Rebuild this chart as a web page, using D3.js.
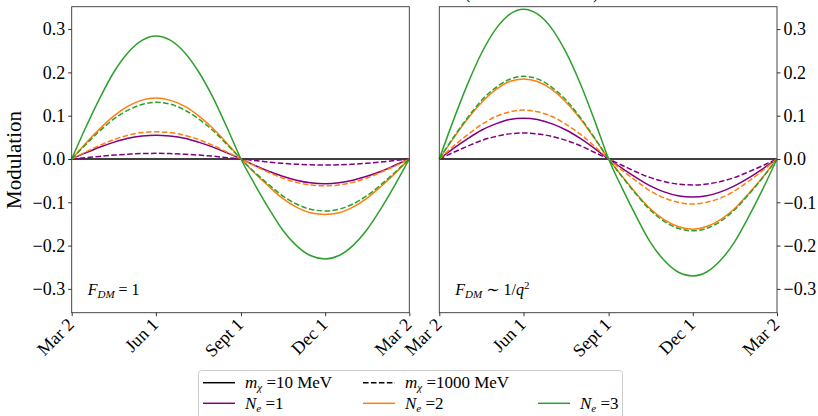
<!DOCTYPE html>
<html><head><meta charset="utf-8">
<script src="https://cdn.jsdelivr.net/npm/d3@7"></script>
<style>
body{margin:0;background:#fff;}
svg text{font-family:"Liberation Serif","DejaVu Serif",serif;}
</style></head>
<body><svg id="c" width="818" height="416"></svg>
<script>
// days since Mar 2
const days = [0,15,30,46,61,76,91,106,122,137,152,168,183,198,213,228,243,258,274,289,304,319,334,350,365];
const tickDays = [0,91,183,274,365];
const tickLabels = ["Mar 2","Jun 1","Sept 1","Dec 1","Mar 2"];
const yTicks = [-0.3,-0.2,-0.1,0.0,0.1,0.2,0.3];

// Left panel: F_DM = 1
const leftG10   = [0,.072,.139,.202,.246,.274,.284,.275,.246,.202,.145,.072,0,-.059,-.114,-.164,-.200,-.223,-.231,-.223,-.200,-.164,-.116,-.058,0];
const leftG1000 = [0,.033,.064,.093,.113,.126,.131,.127,.113,.093,.067,.033,0,-.031,-.059,-.085,-.104,-.116,-.120,-.116,-.104,-.085,-.060,-.030,0];
const leftO10   = [0,.036,.069,.100,.122,.136,.141,.136,.122,.100,.072,.036,0,-.033,-.063,-.091,-.111,-.124,-.128,-.124,-.111,-.091,-.064,-.032,0];
const leftO1000 = [0,.016,.031,.045,.055,.061,.063,.061,.055,.045,.032,.016,0,-.016,-.031,-.044,-.054,-.060,-.062,-.060,-.054,-.044,-.031,-.016,0];
const leftP10   = [0,.014,.027,.039,.048,.053,.055,.053,.048,.039,.028,.014,0,-.015,-.028,-.040,-.049,-.055,-.057,-.055,-.049,-.040,-.029,-.014,0];
const leftP1000 = [0,.003,.006,.009,.011,.0125,.013,.0125,.011,.009,.0066,.003,0,-.0036,-.007,-.010,-.012,-.0135,-.014,-.0135,-.012,-.010,-.007,-.0035,0];

// Right panel: F_DM ~ 1/q^2
const rightG10   = [0,.088,.170,.246,.300,.334,.346,.335,.300,.246,.176,.088,0,-.069,-.133,-.192,-.234,-.261,-.270,-.261,-.234,-.192,-.135,-.068,0];
const rightG1000 = [0,.049,.094,.136,.165,.184,.191,.185,.165,.136,.097,.048,0,-.042,-.082,-.118,-.144,-.160,-.166,-.160,-.144,-.118,-.083,-.042,0];
const rightO10   = [0,.047,.091,.131,.160,.179,.185,.179,.160,.131,.094,.047,0,-.041,-.080,-.115,-.140,-.156,-.162,-.156,-.140,-.115,-.081,-.041,0];
const rightO1000 = [0,.029,.055,.080,.098,.109,.113,.109,.098,.080,.058,.029,0,-.027,-.051,-.074,-.090,-.100,-.104,-.100,-.090,-.074,-.052,-.026,0];
const rightP10   = [0,.024,.046,.067,.081,.091,.094,.091,.081,.067,.048,.024,0,-.022,-.043,-.062,-.076,-.085,-.088,-.085,-.076,-.062,-.044,-.022,0];
const rightP1000 = [0,.015,.029,.043,.052,.058,.060,.058,.052,.043,.031,.015,0,-.015,-.030,-.043,-.052,-.058,-.060,-.058,-.052,-.043,-.030,-.015,0];

const COL = {P:"#800080", O:"#ff7f0e", G:"#2ca02c"};
const SERIF = "'Liberation Serif', 'DejaVu Serif', serif";
const svg = d3.select("#c");
const plotTop = 6.7, plotBottom = 312.7;
const y = d3.scaleLinear().domain([-0.355, 0.3517]).range([plotBottom, plotTop]);

function panel(x0, x1, series, yside, label) {
  const x = d3.scaleLinear().domain([0,365]).range([x0,x1]);
  const g = svg.append("g");
  g.append("line").attr("x1",x0).attr("x2",x1).attr("y1",y(0)).attr("y2",y(0))
    .attr("stroke","#000").attr("stroke-width",1.5);
  const line = d3.line().x((d,i)=>x(days[i])).y(d=>y(d)).curve(d3.curveMonotoneX);
  series.forEach(s=>{
    g.append("path").attr("d",line(s.v)).attr("fill","none").attr("stroke",s.c)
      .attr("stroke-width",1.5).attr("stroke-dasharray",s.dash?"5.55,2.4":null);
  });
  g.append("rect").attr("x",x0).attr("y",plotTop).attr("width",x1-x0).attr("height",plotBottom-plotTop)
    .attr("fill","none").attr("stroke","#333").attr("stroke-width",0.9);
  const xa = g.append("g").attr("transform",`translate(0,${plotBottom})`)
    .call(d3.axisBottom(x).tickValues(tickDays).tickSize(3.5).tickFormat((d,i)=>tickLabels[i]));
  xa.select(".domain").remove();
  xa.selectAll("line").attr("stroke","#333");
  xa.selectAll("text").style("font-size","18px").style("font-family",SERIF)
    .attr("fill","#000")
    .attr("text-anchor","end").attr("dy",null).attr("y",0)
    .attr("transform","translate(3,13) rotate(-45)");
  const ax = yside==="left" ? d3.axisLeft(y) : d3.axisRight(y);
  const ya = g.append("g").attr("transform",`translate(${yside==="left"?x0:x1},0)`)
    .call(ax.tickValues(yTicks).tickSize(3.5).tickPadding(3).tickFormat(d=>d3.format(".1f")(d).replace("-","\u2212")));
  ya.select(".domain").remove();
  ya.selectAll("line").attr("stroke","#333");
  ya.selectAll("text").style("font-size","18px").style("font-family",SERIF).attr("fill","#000");
  const t = g.append("text").attr("x",x0+16).attr("y",295).style("font-size","16px").style("font-family",SERIF);
  label(t);
}

const seriesOf = (G10,G1000,O10,O1000,P10,P1000)=>[
  {v:P1000,c:COL.P,dash:true},{v:P10,c:COL.P},
  {v:O1000,c:COL.O,dash:true},{v:O10,c:COL.O},
  {v:G1000,c:COL.G,dash:true},{v:G10,c:COL.G}
];

panel(71.7, 409.3, seriesOf(leftG10,leftG1000,leftO10,leftO1000,leftP10,leftP1000), "left", t=>{
  t.append("tspan").attr("font-style","italic").text("F");
  t.append("tspan").attr("font-style","italic").style("font-size","11px").attr("dy",3).text("DM");
  t.append("tspan").attr("dy",-3).text(" = 1");
});
panel(439.3, 777, seriesOf(rightG10,rightG1000,rightO10,rightO1000,rightP10,rightP1000), "right", t=>{
  t.append("tspan").attr("font-style","italic").text("F");
  t.append("tspan").attr("font-style","italic").style("font-size","11px").attr("dy",3).text("DM");
  t.append("tspan").attr("dy",-3).text(" \u223C 1/");
  t.append("tspan").attr("font-style","italic").text("q");
  t.append("tspan").style("font-size","11px").attr("dy",-6).text("2");
});

svg.append("text").attr("transform","translate(21,160) rotate(-90)").attr("text-anchor","middle")
  .style("font-size","21px").style("font-family",SERIF).text("Modulation");

svg.append("text").attr("x",465).attr("y",-1.5).style("font-size","16px").text("(");
svg.append("text").attr("x",593).attr("y",-1.5).style("font-size","16px").text(")");

const lg = svg.append("g");
lg.append("rect").attr("x",198.5).attr("y",370.5).attr("width",424).attr("height",60).attr("rx",3)
  .attr("fill","#fff").attr("stroke","#ccc").attr("stroke-width",1);
const legendItems = [
  {x:203, y:382.7, c:"#000", dash:false, sym:"m", sub:"\u03C7", txt:" =10 MeV"},
  {x:363, y:382.7, c:"#000", dash:true,  sym:"m", sub:"\u03C7", txt:" =1000 MeV"},
  {x:203, y:403.3, c:COL.P, dash:false, sym:"N", sub:"e", txt:" =1"},
  {x:363, y:403.3, c:COL.O, dash:false, sym:"N", sub:"e", txt:" =2"},
  {x:538, y:403.3, c:COL.G, dash:false, sym:"N", sub:"e", txt:" =3"}
];
legendItems.forEach(d=>{
  lg.append("line").attr("x1",d.x).attr("x2",d.x+32).attr("y1",d.y).attr("y2",d.y)
    .attr("stroke",d.c).attr("stroke-width",1.5).attr("stroke-dasharray",d.dash?"5.55,2.4":null);
  const t = lg.append("text").attr("x",d.x+42).attr("y",d.y+5.5).style("font-size","17px").style("font-family",SERIF);
  t.append("tspan").attr("font-style","italic").text(d.sym);
  t.append("tspan").attr("font-style","italic").style("font-size","11px").attr("dy",3).text(d.sub);
  t.append("tspan").attr("dy",-3).text(d.txt);
});
</script></body></html>
